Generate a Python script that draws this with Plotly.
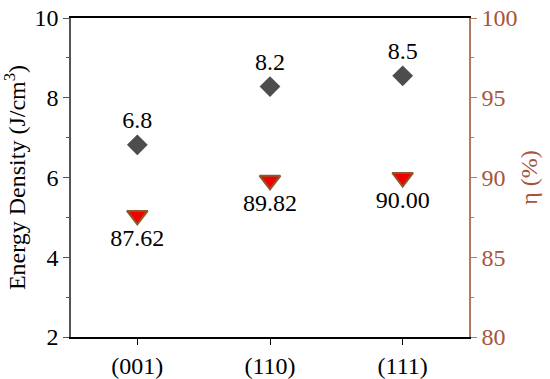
import plotly.graph_objects as go

# data
planes = ["(001)", "(110)", "(111)"]
energy_density = [6.82, 8.28, 8.55]
energy_labels = ["6.8", "8.2", "8.5"]
efficiency = [87.62, 89.82, 90.00]
efficiency_labels = ["87.62", "89.82", "90.00"]

font = "Liberation Serif"
brown = "#b07a5c"
brown_text = "#a8553a"
fs = 24

fig = go.Figure()

fig.add_trace(go.Scatter(
    x=planes, y=energy_density, mode="markers+text",
    text=energy_labels, textposition="top center",
    textfont=dict(size=fs, color="black", family=font),
    marker=dict(symbol="diamond", size=16, color="#4d4d4d"),
    showlegend=False,
))

fig.add_trace(go.Scatter(
    x=planes, y=efficiency, mode="markers+text", yaxis="y2",
    text=efficiency_labels, textposition="bottom center",
    textfont=dict(size=fs, color="black", family=font),
    marker=dict(symbol="triangle-down", size=18, color="#f00000",
                line=dict(color="#8b5a2b", width=2)),
    showlegend=False,
))

fig.update_layout(
    width=550, height=379,
    margin=dict(l=71, r=81, t=18, b=42),
    plot_bgcolor="white", paper_bgcolor="white",
    font=dict(family=font, size=fs, color="black"),
    xaxis=dict(
        type="category", range=[-0.5, 2.5], automargin=False,
        showline=True, linecolor="black", linewidth=1.5, mirror=True,
        ticks="outside", ticklen=6, tickcolor="black", showgrid=False,
        tickfont=dict(size=fs, family=font),
    ),
    yaxis=dict(
        title=dict(text="Energy Density (J/cm<sup>3</sup>)",
                   font=dict(size=fs, family=font), standoff=6),
        range=[2, 10], dtick=2, automargin=False,
        showline=True, linecolor="#555555", linewidth=1.5,
        ticks="outside", ticklen=6, tickcolor="#555555", showgrid=False,
        minor=dict(ticks="outside", ticklen=3, dtick=1, tickcolor="#555555"),
        zeroline=False, tickfont=dict(size=fs, family=font),
    ),
    yaxis2=dict(
        title=dict(text="η (%)", font=dict(size=fs, family=font, color=brown_text), standoff=4),
        overlaying="y", side="right", automargin=False,
        range=[80, 100], dtick=5,
        showline=True, linecolor=brown, linewidth=1.5,
        ticks="outside", ticklen=6, tickcolor=brown, showgrid=False,
        minor=dict(ticks="outside", ticklen=3, dtick=2.5, tickcolor=brown),
        zeroline=False, tickfont=dict(size=fs, family=font, color=brown_text),
    ),
)

# drop the default page margin so the figure sits at the window corner
fig.write_html("out.html", config={"displayModeBar": False},
               post_script="document.body.style.margin='0';")
